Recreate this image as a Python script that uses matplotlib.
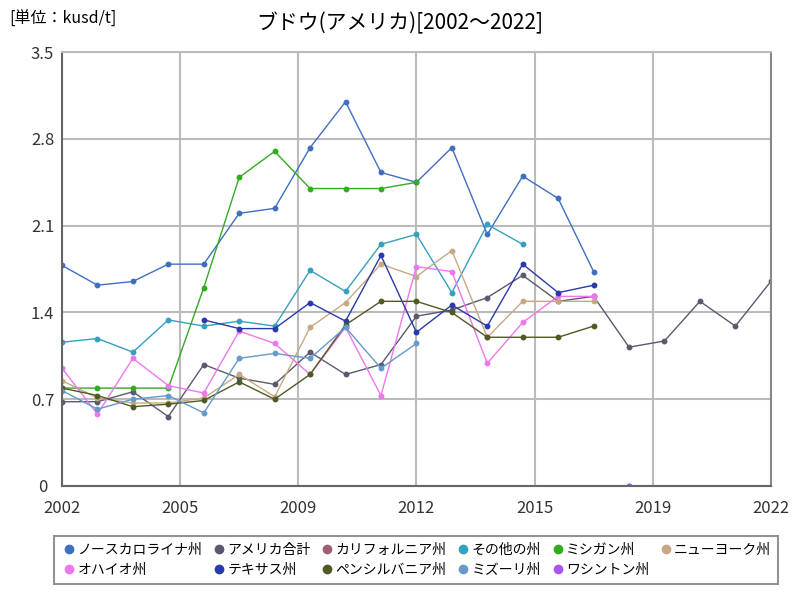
import numpy as np
import matplotlib
matplotlib.use('Agg')
import matplotlib.pyplot as plt

plt.rcParams['font.family'] = ['Noto Sans CJK JP', 'DejaVu Sans']

nan = np.nan
years = list(range(2002, 2023))

# 単位: kusd/t
north_carolina = [1.78, 1.62, 1.65, 1.79, 1.79, 2.20, 2.24, 2.73, 3.10, 2.53, 2.45, 2.73, 2.03, 2.50, 2.32, 1.73,
                  nan, nan, nan, nan, nan]
usa_total = [0.68, 0.68, 0.76, 0.56, 0.98, 0.87, 0.82, 1.08, 0.90, 0.98, 1.37, 1.42, 1.52, 1.70, 1.49, 1.53,
             1.12, 1.17, 1.49, 1.29, 1.65]
california = [nan] * 16 + [0.0] + [nan] * 4
other_states = [1.16, 1.19, 1.08, 1.34, 1.29, 1.33, 1.29, 1.74, 1.57, 1.95, 2.03, 1.56, 2.11, 1.95,
                nan, nan, nan, nan, nan, nan, nan]
michigan = [0.79, 0.79, 0.79, 0.79, 1.60, 2.49, 2.70, 2.40, 2.40, 2.40, 2.45,
            nan, nan, nan, nan, nan, nan, nan, nan, nan, nan]
new_york = [0.85, 0.71, 0.67, 0.67, 0.71, 0.90, 0.72, 1.28, 1.48, 1.79, 1.69, 1.90, 1.20, 1.49, 1.49, 1.49,
            nan, nan, nan, nan, nan]
ohio = [0.95, 0.58, 1.03, 0.81, 0.75, 1.25, 1.15, 0.90, 1.28, 0.73, 1.77, 1.73, 0.99, 1.32, 1.53, 1.53,
        nan, nan, nan, nan, nan]
texas = [nan, nan, nan, nan, 1.34, 1.27, 1.27, 1.48, 1.33, 1.86, 1.24, 1.46, 1.29, 1.79, 1.56, 1.62,
         nan, nan, nan, nan, nan]
pennsylvania = [0.79, 0.73, 0.64, 0.66, 0.69, 0.84, 0.70, 0.90, 1.30, 1.49, 1.49, 1.40, 1.20, 1.20, 1.20, 1.29,
                nan, nan, nan, nan, nan]
missouri = [0.77, 0.62, 0.70, 0.73, 0.59, 1.03, 1.07, 1.03, 1.28, 0.95, 1.15,
            nan, nan, nan, nan, nan, nan, nan, nan, nan, nan]
washington = [nan] * 16 + [0.0] + [nan] * 4

series = [
    ('ノースカロライナ州', north_carolina, '#3f6fbf'),
    ('アメリカ合計', usa_total, '#5a5a6e'),
    ('カリフォルニア州', california, '#9c6070'),
    ('その他の州', other_states, '#35a0c0'),
    ('ミシガン州', michigan, '#33aa22'),
    ('ニューヨーク州', new_york, '#c8a882'),
    ('オハイオ州', ohio, '#ee77ee'),
    ('テキサス州', texas, '#2a3aaa'),
    ('ペンシルバニア州', pennsylvania, '#4e5a22'),
    ('ミズーリ州', missouri, '#6699cc'),
    ('ワシントン州', washington, '#aa55ee'),
]

fig = plt.figure(figsize=(8, 6), dpi=100)
ax = fig.add_axes([0.0775, 0.19, 0.886, 0.723])

for name, vals, col in series:
    ax.plot(years, vals, color=col, lw=1, marker='o', ms=3.2, label=name)

ax.set_xlim(2002, 2022)
ax.set_ylim(0, 3.5)
xt = np.linspace(2002, 2022, 7)
ax.set_xticks(xt)
ax.set_xticklabels([str(int(round(v))) for v in xt], fontsize=12)
ax.set_yticks([0, 0.7, 1.4, 2.1, 2.8, 3.5])
ax.set_yticklabels(['0', '0.7', '1.4', '2.1', '2.8', '3.5'], fontsize=12)
ax.tick_params(axis='x', length=0, pad=10, colors='#333333')
ax.tick_params(axis='y', length=0, pad=14, colors='#333333')
for lab in ax.get_yticklabels():
    lab.set_horizontalalignment('center')
ax.grid(True, color='#bbbbbb', lw=1.5)
ax.set_axisbelow(True)
ax.spines['top'].set_color('#bbbbbb')
ax.spines['top'].set_linewidth(1.5)
ax.spines['right'].set_color('#888888')
ax.spines['right'].set_linewidth(1.5)
for s in ['left', 'bottom']:
    ax.spines[s].set_color('#666666')
    ax.spines[s].set_linewidth(1.5)

fig.text(0.5, 0.962, 'ブドウ(アメリカ)[2002～2022]', ha='center', va='center', fontsize=15)
fig.text(0.012, 0.968, '[単位：kusd/t]', ha='left', va='center', fontsize=11.5)

# 凡例は行ごとに並ぶように列順へ並べ替え
order = ['ノースカロライナ州', 'オハイオ州', 'アメリカ合計', 'テキサス州', 'カリフォルニア州', 'ペンシルバニア州',
         'その他の州', 'ミズーリ州', 'ミシガン州', 'ワシントン州', 'ニューヨーク州']
leg_handles = []
for name in order:
    col = [c for n, v, c in series if n == name][0]
    h, = ax.plot([], [], ls='none', marker='o', ms=6, color=col)
    leg_handles.append(h)
leg = fig.legend(leg_handles, order, loc='upper center', bbox_to_anchor=(0.52, 0.118), ncol=6,
                 fontsize=10, frameon=True, fancybox=False, edgecolor='#777777',
                 handletextpad=0.0, columnspacing=0.6, handlelength=1.2, borderpad=0.5, labelspacing=0.4)
leg.get_frame().set_linewidth(1.5)

fig.savefig('out.png', dpi=100)
